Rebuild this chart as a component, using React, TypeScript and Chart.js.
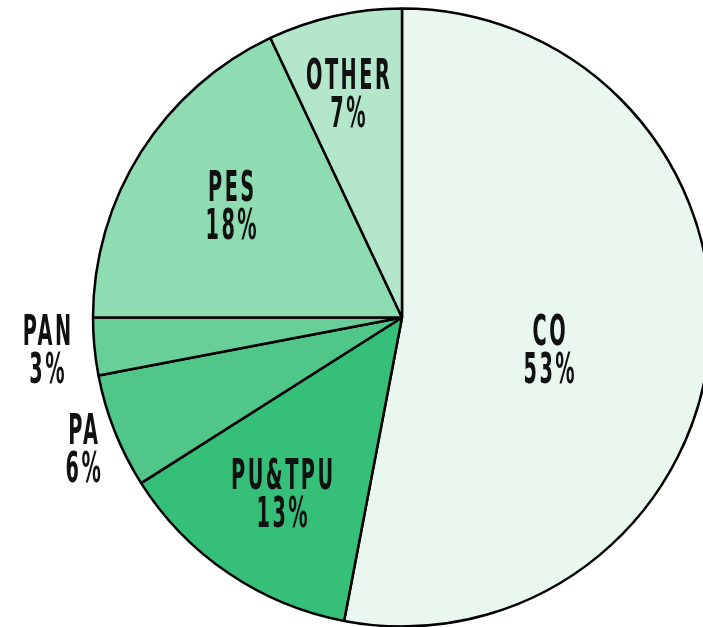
import React, { useEffect, useRef } from "react";
import { Chart, registerables } from "chart.js";

Chart.register(...registerables);

const categories = ["CO", "PU&TPU", "PA", "PAN", "PES", "OTHER"];
const shares = [53, 13, 6, 3, 18, 7];
const colors = ["#e9f7ef", "#35bf79", "#50c788", "#68cf98", "#8fdcb3", "#b4e6cb"];
// label anchor offsets relative to pie centre, as fractions of the radius
const labelDX = [0.476, -0.388, -1.032, -1.149, -0.553, -0.175];
const labelDY = [0.108, 0.574, 0.43, 0.11, -0.359, -0.72];

const RADIUS = 309;

const labelPlugin = {
  id: "pieLabels",
  afterDatasetsDraw(chart: any) {
    const meta = chart.getDatasetMeta(0);
    const arc0 = meta.data[0];
    if (!arc0) return;
    const cx = arc0.x;
    const cy = arc0.y;
    const r = arc0.outerRadius;
    const ctx = chart.ctx;
    const sx = 0.46;
    const ls = 5.4;
    ctx.save();
    ctx.fillStyle = "#111111";
    ctx.font = 'bold 42px "DejaVu Sans", sans-serif';
    ctx.textAlign = "center";
    ctx.textBaseline = "alphabetic";
    (ctx as any).letterSpacing = ls + "px";
    categories.forEach((name, i) => {
      const x = cx + labelDX[i] * r;
      const y = cy + labelDY[i] * r;
      const lines = [name, shares[i] + "%"];
      const baselines = [y - 6, y + 32];
      lines.forEach((t, j) => {
        ctx.save();
        ctx.translate(x, baselines[j]);
        ctx.scale(sx, 1);
        ctx.fillText(t, ls / 2, 0);
        ctx.restore();
      });
    });
    ctx.restore();
  },
};

export default function App() {
  const ref = useRef<HTMLCanvasElement | null>(null);
  useEffect(() => {
    if (!ref.current) return;
    const chart = new Chart(ref.current, {
      type: "pie",
      data: {
        labels: categories,
        datasets: [
          {
            data: shares,
            backgroundColor: colors,
            borderColor: "#000000",
            borderWidth: 2.5,
            clip: false as any,
          },
        ],
      },
      options: {
        responsive: false,
        animation: false,
        radius: RADIUS,
        layout: { padding: { left: 101, top: 8, right: 0, bottom: 0 } },
        plugins: {
          legend: { display: false },
          tooltip: { enabled: false },
        },
      } as any,
      plugins: [labelPlugin],
    });
    return () => chart.destroy();
  }, []);
  return (
    <div style={{ position: "fixed", left: 0, top: 0, width: 703, height: 627, background: "#ffffff" }}>
      <canvas ref={ref} width={703} height={627} style={{ display: "block" }} />
    </div>
  );
}
